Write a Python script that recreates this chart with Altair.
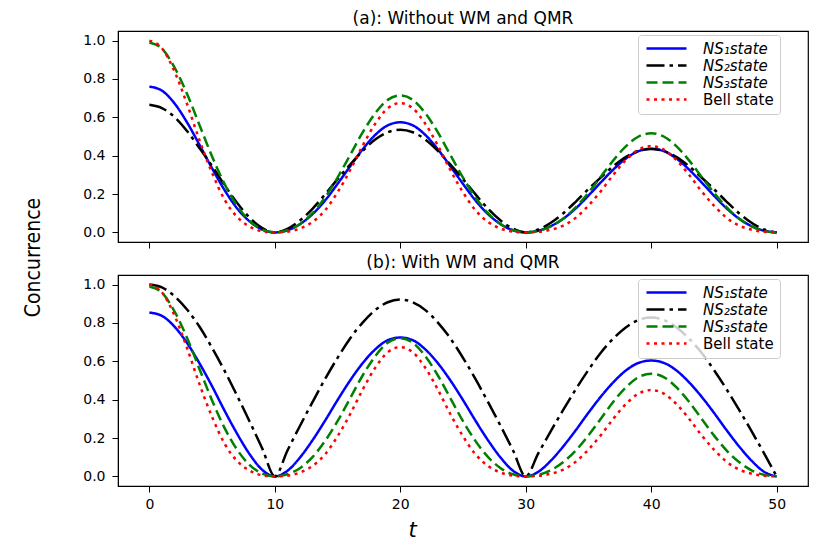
import altair as alt
import pandas as pd

# ---- data ----
t = list(range(51))
states = ["NS₁state", "NS₂state", "NS₃state", "Bell state"]
colors = ["#0000ff", "#000000", "#008000", "#ff0000"]

a_ns1 = [0.760, 0.739, 0.673, 0.574, 0.456, 0.334, 0.220, 0.125, 0.057, 0.015, 0.000,
         0.011, 0.043, 0.095, 0.166, 0.253, 0.344, 0.433, 0.508, 0.558, 0.574,
         0.558, 0.508, 0.433, 0.344, 0.253, 0.166, 0.095, 0.043, 0.011, 0.000,
         0.009, 0.033, 0.072, 0.126, 0.192, 0.262, 0.329, 0.386, 0.424, 0.436,
         0.424, 0.386, 0.329, 0.262, 0.192, 0.126, 0.072, 0.033, 0.009, 0.000]
a_ns2 = [0.665, 0.648, 0.602, 0.529, 0.439, 0.346, 0.246, 0.153, 0.076, 0.023, 0.000,
         0.019, 0.062, 0.123, 0.198, 0.278, 0.353, 0.425, 0.484, 0.522, 0.535,
         0.522, 0.484, 0.425, 0.353, 0.278, 0.198, 0.123, 0.062, 0.019, 0.000,
         0.015, 0.050, 0.100, 0.161, 0.226, 0.287, 0.346, 0.394, 0.424, 0.435,
         0.424, 0.394, 0.346, 0.287, 0.226, 0.161, 0.100, 0.050, 0.015, 0.000]
a_ns3 = [0.990, 0.958, 0.861, 0.723, 0.559, 0.396, 0.252, 0.139, 0.059, 0.015, 0.000,
         0.011, 0.043, 0.100, 0.182, 0.286, 0.403, 0.521, 0.621, 0.691, 0.714,
         0.691, 0.621, 0.521, 0.403, 0.286, 0.182, 0.100, 0.043, 0.011, 0.000,
         0.008, 0.031, 0.072, 0.132, 0.207, 0.292, 0.377, 0.450, 0.500, 0.517,
         0.500, 0.450, 0.377, 0.292, 0.207, 0.132, 0.072, 0.031, 0.008, 0.000]
bell = [1.000, 0.960, 0.840, 0.670, 0.480, 0.310, 0.170, 0.080, 0.030, 0.006, 0.000,
        0.004, 0.020, 0.054, 0.115, 0.209, 0.324, 0.452, 0.566, 0.647, 0.674,
        0.647, 0.566, 0.452, 0.324, 0.209, 0.115, 0.054, 0.020, 0.004, 0.000,
        0.003, 0.014, 0.036, 0.077, 0.140, 0.216, 0.302, 0.378, 0.432, 0.450,
        0.432, 0.378, 0.302, 0.216, 0.140, 0.077, 0.036, 0.014, 0.003, 0.000]
b_ns1 = [0.854, 0.837, 0.781, 0.696, 0.589, 0.470, 0.342, 0.222, 0.115, 0.034, 0.000,
         0.029, 0.098, 0.188, 0.290, 0.398, 0.500, 0.590, 0.662, 0.710, 0.724,
         0.710, 0.662, 0.590, 0.500, 0.398, 0.290, 0.188, 0.098, 0.029, 0.000,
         0.024, 0.082, 0.157, 0.242, 0.332, 0.417, 0.492, 0.553, 0.592, 0.604,
         0.592, 0.553, 0.492, 0.417, 0.332, 0.242, 0.157, 0.082, 0.024, 0.000]
b_ns2 = [1.000, 0.985, 0.940, 0.870, 0.780, 0.670, 0.550, 0.420, 0.285, 0.145, 0.000,
         0.134, 0.263, 0.387, 0.507, 0.618, 0.719, 0.802, 0.867, 0.908, 0.922,
         0.908, 0.867, 0.802, 0.719, 0.618, 0.507, 0.387, 0.263, 0.134, 0.000,
         0.120, 0.236, 0.348, 0.455, 0.555, 0.646, 0.720, 0.778, 0.816, 0.828,
         0.816, 0.778, 0.720, 0.646, 0.555, 0.455, 0.348, 0.236, 0.120, 0.000]
b_ns3 = [0.990, 0.958, 0.861, 0.723, 0.559, 0.396, 0.252, 0.139, 0.059, 0.015, 0.000,
         0.011, 0.043, 0.101, 0.184, 0.288, 0.407, 0.526, 0.626, 0.697, 0.720,
         0.697, 0.626, 0.526, 0.407, 0.288, 0.184, 0.101, 0.043, 0.011, 0.000,
         0.008, 0.032, 0.075, 0.136, 0.214, 0.302, 0.391, 0.465, 0.518, 0.535,
         0.518, 0.465, 0.391, 0.302, 0.214, 0.136, 0.075, 0.032, 0.008, 0.000]

x_ticks = [0, 10, 20, 30, 40, 50]
y_ticks = [0.0, 0.2, 0.4, 0.6, 0.8, 1.0]

dashes = [[1, 0], [18, 5, 3.5, 5], [11, 5], [3, 4.5]]

FONT = "DejaVu Sans"


def make_df(series):
    rows = []
    for s, vals in zip(states, series):
        for tt, v in zip(t, vals):
            rows.append({"t": tt, "C": v, "state": s})
    return pd.DataFrame(rows)


def panel(df, title, bottom):
    legend = alt.Legend(
        title=None, orient="none", legendX=520, legendY=4,
        symbolType="M-1,0H7", symbolSize=100, symbolStrokeWidth=2.5,
        labelFont=FONT, labelFontSize=15, labelColor="black",
        labelFontStyle=alt.ExprRef("datum.label === 'Bell state' ? 'normal' : 'italic'"),
        labelOffset=44, rowPadding=1, padding=6,
        fillColor="rgba(255,255,255,0.8)", strokeColor="#cccccc", cornerRadius=3,
    )
    color = alt.Color("state:N", scale=alt.Scale(domain=states, range=colors), legend=legend)
    dash = alt.StrokeDash("state:N", scale=alt.Scale(domain=states, range=dashes), legend=legend)
    ycommon = dict(values=y_ticks, format=".1f", grid=False, tickSize=6, labelPadding=7,
                   labelFont=FONT, labelFontSize=14, labelColor="black",
                   domainColor="black", tickColor="black")
    if bottom:
        xaxis = alt.Axis(values=x_ticks, format="d", grid=False, tickSize=6, labelPadding=5,
                         labelFont=FONT, labelFontSize=14, labelColor="black",
                         domainColor="black", tickColor="black",
                         title="t", titleFont=FONT, titleFontSize=21, titleFontStyle="italic",
                         titleFontWeight="normal", titleColor="black",
                         titleX=294, titleY=50, titleAlign="center", titleBaseline="alphabetic")
        yaxis = alt.Axis(title="", **ycommon)
    else:
        xaxis = alt.Axis(values=x_ticks, labels=False, grid=False, tickSize=6,
                         domainColor="black", tickColor="black", title="")
        yaxis = alt.Axis(title="Concurrence",
                         titleFont="Liberation Sans Narrow, DejaVu Sans Condensed, sans-serif",
                         titleFontSize=21, titleFontWeight="normal", titleColor="black",
                         titleX=-85, titleY=226, titleAlign="center", titleBaseline="middle",
                         **ycommon)
    x = alt.X("t:Q", scale=alt.Scale(domain=[-2.5, 52.5], nice=False, zero=False), axis=xaxis)
    y = alt.Y("C:Q", scale=alt.Scale(domain=[-0.05, 1.05], nice=False, zero=False), axis=yaxis)
    layers = []
    for s in states:
        layers.append(
            alt.Chart(df).transform_filter(alt.datum.state == s)
            .mark_line(interpolate="monotone", strokeWidth=2.5, strokeCap="butt")
            .encode(x=x, y=y, color=color, strokeDash=dash)
        )
    return alt.layer(*layers).properties(
        width=690, height=211,
        title=alt.TitleParams(title, font=FONT, fontSize=17, fontWeight="normal", color="black",
                              anchor="middle", baseline="alphabetic", offset=-10, frame="group"),
    )


df_a = make_df([a_ns1, a_ns2, a_ns3, bell])
df_b = make_df([b_ns1, b_ns2, b_ns3, bell])

chart = alt.vconcat(
    panel(df_a, "(a): Without WM and QMR", False),
    panel(df_b, "(b): With WM and QMR", True),
    spacing=33,
    bounds="flush",
).resolve_scale(color="independent", strokeDash="independent").properties(
    padding={"left": 13, "top": 1, "right": 5, "bottom": 5}
).configure_view(stroke="black", strokeWidth=1.2)

chart.save("out.html", embed_options={"renderer": "svg", "actions": False})
